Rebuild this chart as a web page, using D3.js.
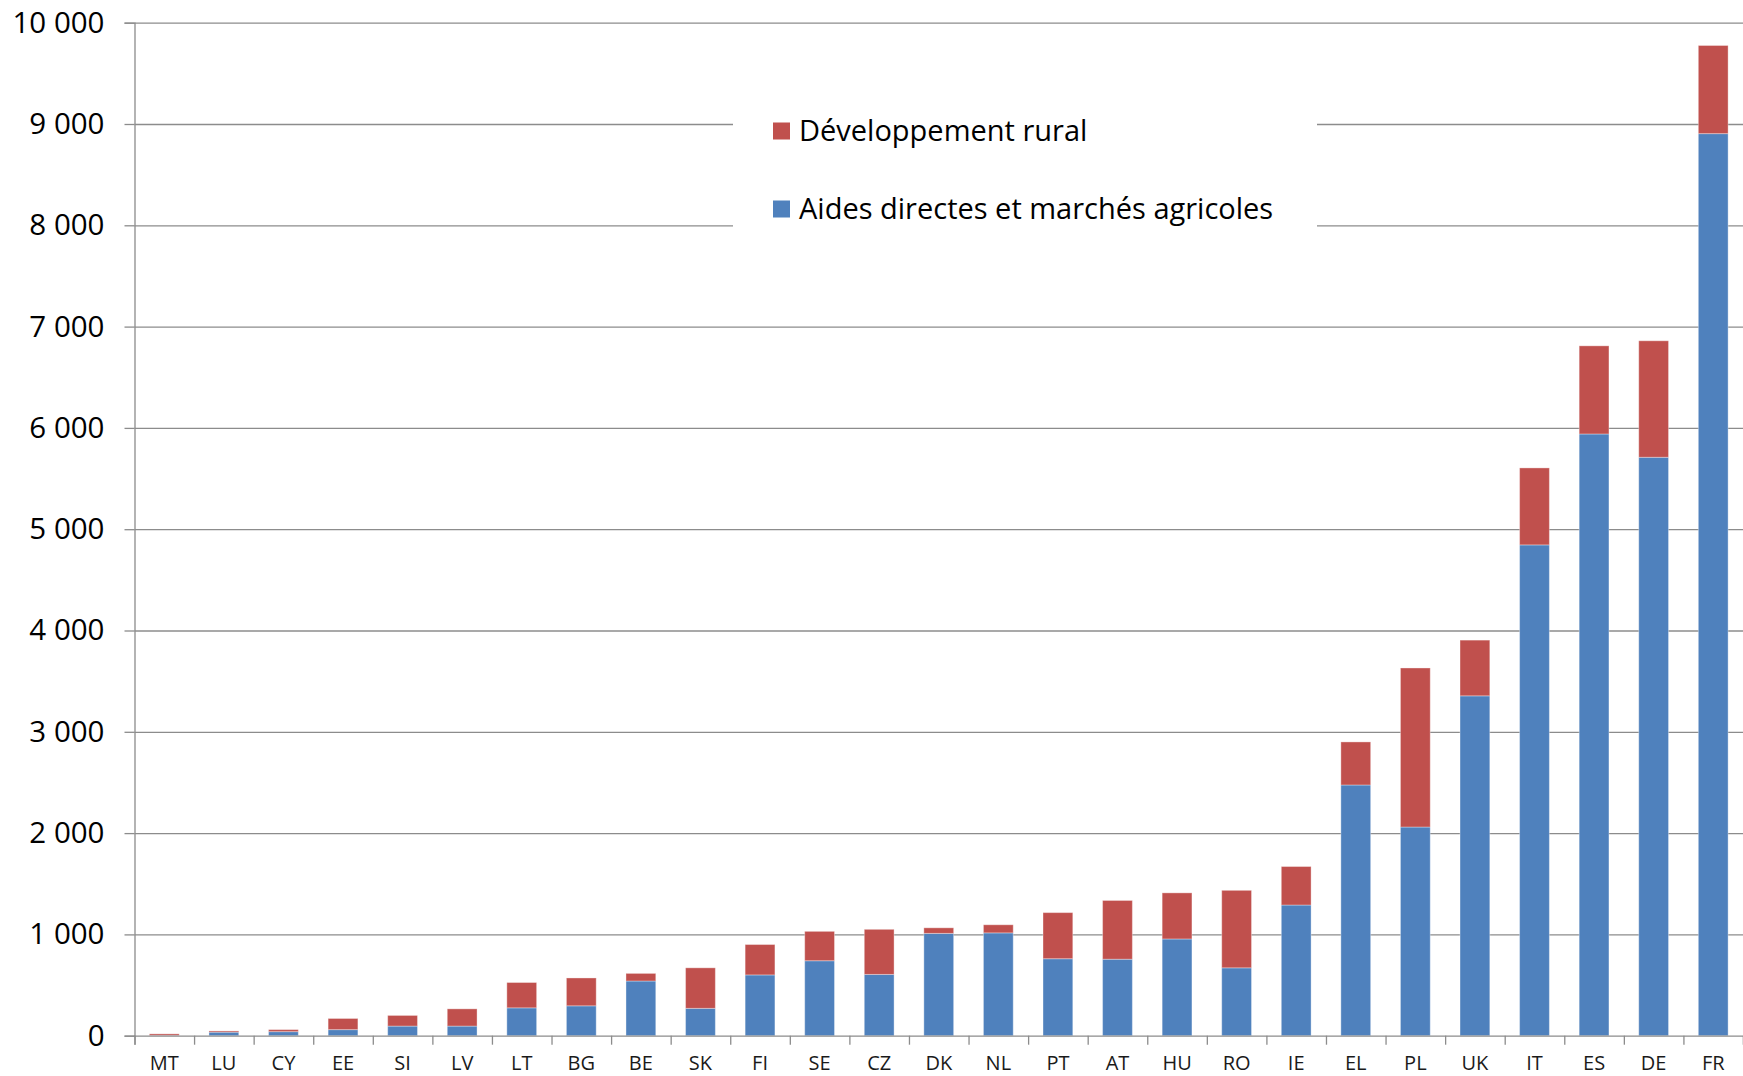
<!DOCTYPE html>
<html>
<head>
<meta charset="utf-8">
<script src="https://cdn.jsdelivr.net/npm/d3@7"></script>
<style>
  html, body { margin: 0; padding: 0; background: #fff; }
  svg { display: block; font-family: "Open Sans", sans-serif; }
</style>
</head>
<body>
<svg id="chart" width="1743" height="1076"></svg>
<script>
// Data
const countries = ['MT', 'LU', 'CY', 'EE', 'SI', 'LV', 'LT', 'BG', 'BE', 'SK', 'FI', 'SE', 'CZ', 'DK',
  'NL', 'PT', 'AT', 'HU', 'RO', 'IE', 'EL', 'PL', 'UK', 'IT', 'ES', 'DE', 'FR'];
const aidesDirectes = [3, 35, 40, 60, 95, 95, 275, 295, 540, 270, 600, 740, 605, 1010,
  1015, 760, 755, 955, 670, 1290, 2475, 2060, 3355, 4845, 5940, 5710, 8905];
const devRural = [15, 12, 20, 110, 105, 170, 250, 275, 75, 400, 300, 290, 445, 55,
  80, 455, 580, 455, 765, 380, 425, 1570, 550, 760, 870, 1150, 870];
const yTicks = d3.range(0, 10001, 1000);
const seriesNames = ['Aides directes et marchés agricoles', 'Développement rural'];
const seriesColours = ['#4F81BD', '#C0504D'];

const svg = d3.select('#chart');
const pad = { l: 134.5, r: 1743, t: 22.7, b: 1035.7 };

const aRows = countries.map((c, i) => ({ c, a: aidesDirectes[i], d: devRural[i] }));
const aStack = d3.stack().keys(['a', 'd'])(aRows);

const x = d3.scaleBand().domain(countries).range([pad.l, pad.r])
  .paddingInner(0.5).paddingOuter(0.25);
const xEdge = d3.scaleLinear().domain([0, countries.length]).range([pad.l, pad.r]);
const y = d3.scaleLinear().domain([0, 10000]).range([pad.b, pad.t]);

const fr = d3.formatLocale({ decimal: ',', thousands: '\u00a0', grouping: [3], currency: ['', ' €'] });
const fmt = fr.format(',d');

// Gridlines
svg.append('g')
  .attr('transform', `translate(${pad.l},0)`)
  .call(d3.axisLeft(y).tickValues(yTicks.slice(1)).tickSize(-(pad.r - pad.l)).tickFormat(''))
  .call(g => g.select('.domain').remove())
  .call(g => g.selectAll('line').attr('stroke', '#8c8c8c').attr('stroke-width', 1.3));

// Legend background covers the gridlines behind it
svg.append('rect')
  .attr('x', 733).attr('y', 80).attr('width', 584).attr('height', 170).attr('fill', '#fff');

// Bars
svg.append('g').selectAll('g')
  .data(aStack)
  .join('g')
  .attr('fill', (d, i) => seriesColours[i])
  .selectAll('rect')
  .data(d => d)
  .join('rect')
  .attr('x', d => x(d.data.c))
  .attr('width', x.bandwidth())
  .attr('y', d => y(d[1]))
  .attr('height', d => y(d[0]) - y(d[1]))
  .attr('stroke', 'rgba(255,255,255,0.35)')
  .attr('stroke-width', 1);

// Y axis
svg.append('g')
  .attr('transform', `translate(${pad.l},0)`)
  .call(d3.axisLeft(y).tickValues(yTicks).tickSize(10).tickPadding(20).tickFormat(fmt))
  .call(g => g.selectAll('line, .domain').attr('stroke', '#8c8c8c').attr('stroke-width', 1.3))
  .call(g => g.selectAll('text').attr('fill', '#000').attr('font-size', 29.5)
    .attr('font-family', '"Open Sans", sans-serif'));

// X axis: boundary ticks
svg.append('g')
  .attr('transform', `translate(0,${pad.b})`)
  .call(d3.axisBottom(xEdge).tickValues(d3.range(0, countries.length + 1)).tickSize(9).tickFormat(''))
  .call(g => g.selectAll('line, .domain').attr('stroke', '#8c8c8c').attr('stroke-width', 1.3));

// X axis: labels
svg.append('g')
  .attr('transform', `translate(0,${pad.b})`)
  .call(d3.axisBottom(x).tickSize(0).tickPadding(20))
  .call(g => g.select('.domain').remove())
  .call(g => g.selectAll('text').attr('fill', '#1a1a1a').attr('font-size', 20)
    .attr('font-family', '"Open Sans", sans-serif'));

// Legend
const aLegend = [
  { name: seriesNames[1], colour: seriesColours[1], cy: 131 },
  { name: seriesNames[0], colour: seriesColours[0], cy: 209 }
];
const oLegend = svg.append('g').selectAll('g').data(aLegend).join('g');
oLegend.append('rect')
  .attr('x', 773).attr('y', d => d.cy - 8.5).attr('width', 17).attr('height', 17)
  .attr('fill', d => d.colour);
oLegend.append('text')
  .attr('x', 799).attr('y', d => d.cy).attr('dy', '0.35em')
  .attr('font-size', 29).attr('fill', '#000')
  .text(d => d.name);
</script>
</body>
</html>
